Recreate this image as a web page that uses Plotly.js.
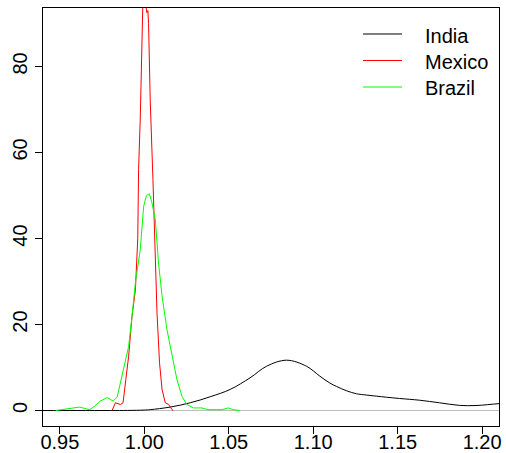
<!DOCTYPE html>
<html>
<head>
<meta charset="utf-8">
<script src="https://cdn.plot.ly/plotly-3.0.1.min.js"></script>
<style>html,body{margin:0;padding:0;background:#fff;}#chart{width:506px;height:453px;}</style>
</head>
<body>
<div id="chart"></div>
<script>
var seriesNames = ["India", "Mexico", "Brazil"];
var seriesColors = ["#000000", "#ff0000", "#00ff00"];

var indiaX = [0.94, 0.96, 0.98, 0.99, 1.0, 1.0035, 1.0153, 1.0272, 1.039, 1.0508, 1.0626, 1.0724, 1.0842, 1.096, 1.1039, 1.1098, 1.1138, 1.1197, 1.1256, 1.1315, 1.1433, 1.1511, 1.1629, 1.1747, 1.1865, 1.1964, 1.2101, 1.22];
var indiaY = [0, 0, 0, 0.02, 0.1, 0.2, 0.8, 1.8, 3.2, 4.9, 7.6, 10.3, 11.7, 10.3, 8.0, 6.4, 5.6, 4.6, 3.9, 3.6, 3.1, 2.8, 2.4, 1.8, 1.2, 1.16, 1.6, 1.8];

var mexicoX = [0.9809, 0.9829, 0.9858, 0.9874, 0.9888, 0.9907, 0.9927, 0.9947, 0.9961, 0.9966, 0.9976, 0.9986, 0.9992, 1.0003, 1.0006, 1.0015, 1.0021, 1.0025, 1.0035, 1.0051, 1.0065, 1.0075, 1.0090, 1.0105, 1.0124, 1.0144, 1.0164, 1.0171];
var mexicoY = [0, 1.8, 1.4, 1.8, 6.4, 12.6, 21.9, 28, 40, 56, 68, 88, 96, 98, 95, 92.5, 93, 90, 72, 53.7, 34.3, 22.7, 11.1, 4.9, 1.8, 1.4, 0.2, 0];

var brazilX = [0.9475, 0.9544, 0.9616, 0.9646, 0.9677, 0.9705, 0.9740, 0.9780, 0.9815, 0.9839, 0.9868, 0.9888, 0.9907, 0.9927, 0.9947, 0.9976, 0.9996, 1.0012, 1.0030, 1.0044, 1.0065, 1.0084, 1.0105, 1.0134, 1.0164, 1.0193, 1.0223, 1.0252, 1.0291, 1.0341, 1.0378, 1.0459, 1.0498, 1.0527, 1.0567];
var brazilY = [0, 0.35, 0.8, 0.5, 0.2, 1.0, 2.2, 3.0, 2.2, 3.1, 8.0, 11.5, 14.9, 21.9, 29.7, 37.4, 47.5, 50, 50.4, 48.5, 44.4, 34.3, 26.6, 18.8, 12.6, 7.2, 3.3, 1.4, 0.6, 0.6, 0.2, 0.2, 0.6, 0.2, 0];

var xTickVals = [0.95, 1.00, 1.05, 1.10, 1.15, 1.20];
var xTickText = ["0.95", "1.00", "1.05", "1.10", "1.15", "1.20"];
var yTickVals = [0, 20, 40, 60, 80];
var yTickText = ["0", "20", "40", "60", "80"];

var xs = [indiaX, mexicoX, brazilX];
var ys = [indiaY, mexicoY, brazilY];
var traces = [];
for (var i = 0; i < seriesNames.length; i++) {
  traces.push({
    x: xs[i], y: ys[i], name: seriesNames[i], type: "scatter", mode: "lines",
    line: {color: seriesColors[i], width: 1, shape: i === 0 ? "spline" : "linear"},
    hoverinfo: "skip", showlegend: false
  });
}

var font = {family: "Liberation Sans, Arial, sans-serif", size: 20, color: "#000"};

// legend drawn as key lines + text in paper coordinates
var legLineX0 = 0.7018, legLineX1 = 0.7873, legTextX = 0.8333;
var legLineY = [0.9378, 0.8744, 0.8110];
var legTextY = [0.9330, 0.8708, 0.8086];
var shapes = [], annotations = [];
for (var j = 0; j < seriesNames.length; j++) {
  shapes.push({type: "line", xref: "paper", yref: "paper", x0: legLineX0, x1: legLineX1, y0: legLineY[j], y1: legLineY[j],
    line: {color: seriesColors[j], width: 1}});
  annotations.push({xref: "paper", yref: "paper", x: legTextX, y: legTextY[j], xanchor: "left", yanchor: "middle",
    text: seriesNames[j], showarrow: false, font: font});
}

var layout = {
  width: 506, height: 453,
  margin: {l: 43, r: 7, t: 8, b: 27, pad: 0},
  paper_bgcolor: "#fff", plot_bgcolor: "#fff",
  font: font,
  showlegend: false,
  shapes: shapes,
  annotations: annotations,
  xaxis: {
    range: [0.94, 1.21], showgrid: false, zeroline: false,
    showline: true, mirror: true, linecolor: "#000", linewidth: 1,
    ticks: "outside", ticklen: 7, tickcolor: "#000", tickwidth: 1,
    tickvals: xTickVals, ticktext: xTickText, tickfont: font, ticklabelstandoff: -9
  },
  yaxis: {
    range: [-3.6, 93.6], showgrid: false,
    zeroline: true, zerolinecolor: "#bebebe", zerolinewidth: 1.5,
    showline: true, mirror: true, linecolor: "#000", linewidth: 1,
    ticks: "outside", ticklen: 7, tickcolor: "#000", tickwidth: 1,
    tickvals: yTickVals, ticktext: yTickText, tickangle: -90, tickfont: font
  }
};
Plotly.newPlot("chart", traces, layout, {staticPlot: true, displayModeBar: false});
</script>
</body>
</html>
